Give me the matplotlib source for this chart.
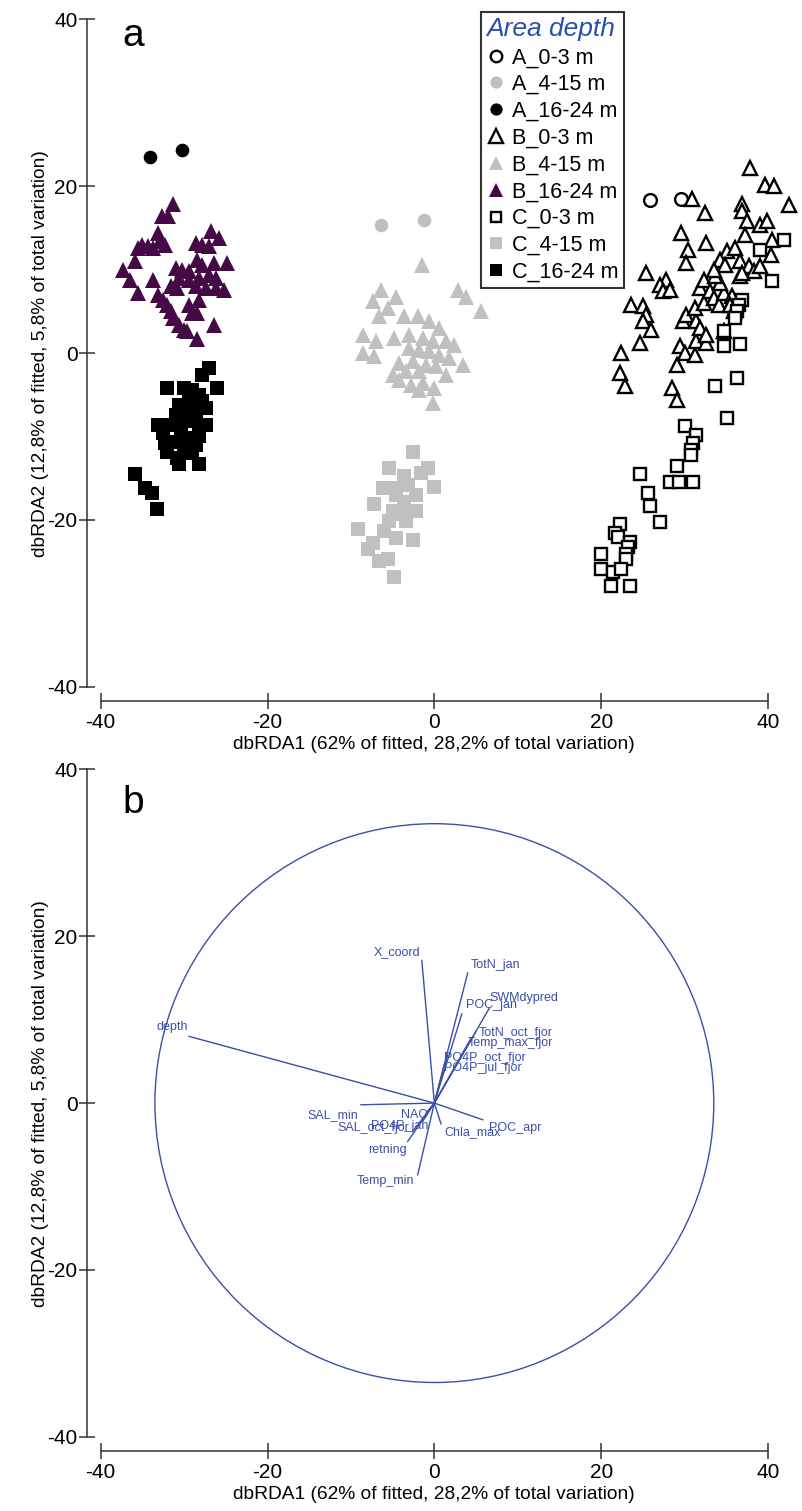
import matplotlib
matplotlib.use("Agg")
import matplotlib.pyplot as plt
from matplotlib.lines import Line2D
from matplotlib.patches import Circle
import numpy as np

plt.rcParams['font.family'] = ['Liberation Sans', 'DejaVu Sans']
plt.rcParams['axes.unicode_minus'] = False

# ---------------- data: panel a (dbRDA1, dbRDA2) ----------------
A03_x = [25.9, 29.6]
A03_y = [18.3, 18.5]

A415_x = [-6.4, -1.2]
A415_y = [15.3, 16.0]

A1624_x = [-34.1, -30.2]
A1624_y = [23.5, 24.4]

B03_x = [37.9, 39.7, 40.7, 42.5, 30.9, 32.5, 36.9, 36.9, 37.5, 39.1, 39.9, 40.5, 37.3,
         29.6, 32.6, 30.4, 30.2, 35.1, 36.1, 34.3, 36.7, 37.7, 38.3, 40.3, 25.4, 27.8,
         27.0, 27.4, 28.2, 23.6, 25.0, 25.4, 25.0, 26.0, 24.6, 22.4, 22.2, 22.8, 28.5,
         29.1, 29.1, 29.4, 30.0, 31.3, 31.4, 32.6, 29.8, 30.2, 31.4, 31.8, 31.3, 32.3,
         31.9, 32.3, 33.1, 33.5, 34.1, 34.7, 35.7, 35.5, 35.9, 34.3, 34.9, 36.1, 36.7,
         33.7, 34.7, 32.6, 33.5, 39.1, 36.9]
B03_y = [22.2, 20.2, 20.0, 17.8, 18.5, 16.8, 17.9, 17.0, 15.8, 15.4, 15.8, 13.6, 14.2,
         14.4, 13.2, 12.4, 10.8, 12.2, 12.6, 11.2, 11.0, 10.4, 9.8, 11.8, 9.6, 8.8,
         8.2, 7.4, 7.6, 5.8, 5.6, 4.6, 3.8, 2.8, 1.2, 0.0, -2.4, -4.0, -4.2,
         -5.6, -1.4, 0.8, 0.0, -0.2, 1.4, 1.2, 3.8, 4.6, 3.8, 3.0, 5.4, 6.0,
         7.8, 8.8, 7.4, 6.6, 5.8, 7.2, 6.8, 5.8, 5.0, 8.4, 10.6, 5.4, 9.2,
         9.2, 2.6, 2.2, 10.0, 10.4, 9.6]

B415_x = [-1.5, -6.4, -7.4, -4.6, -5.6, 2.8, 3.8, 5.6, -6.6, -3.6, -2.0, -0.6, 0.6,
          -8.6, -7.0, -4.8, -3.0, -1.4, -0.2, 1.4, 2.4, -8.6, -7.2, -3.0, -1.8, -0.6,
          0.6, 1.8, 3.4, -4.2, -2.6, -1.0, 0.2, -3.4, -1.8, -4.2, -2.8, -1.4, 0.0,
          -1.8, -0.2, 1.4, -5.0]
B415_y = [10.6, 7.6, 6.2, 6.7, 5.4, 7.6, 6.7, 5.0, 4.4, 4.4, 4.4, 3.8, 3.0,
          2.2, 1.4, 1.8, 2.2, 1.8, 1.4, 1.4, 1.0, 0.0, -0.4, 0.6, 0.4, 0.2,
          -0.2, -0.6, -1.4, -1.2, -1.0, -1.4, -1.6, -2.2, -2.2, -3.2, -3.8, -3.6, -4.2,
          -4.4, -6.0, -2.6, -2.6]

B1624_x = [-31.3, -32.7, -31.9, -33.1, -32.9, -35.1, -35.5, -34.3, -33.7, -32.3, -26.8,
           -25.8, -28.6, -27.8, -27.0, -35.9, -37.3, -36.5, -35.5, -33.7, -31.0, -30.2,
           -29.4, -28.4, -27.8, -26.4, -24.8, -30.6, -29.4, -28.2, -27.0, -26.2, -31.6,
           -30.8, -28.6, -27.4, -26.2, -25.2, -33.1, -32.5, -32.1, -31.6, -31.3, -30.6,
           -30.0, -29.0, -28.4, -28.2, -29.4, -26.4, -28.4, -29.6]
B1624_y = [17.9, 16.4, 16.4, 14.4, 13.4, 13.0, 12.6, 12.8, 12.6, 13.0, 14.6,
           13.8, 13.2, 13.0, 12.8, 11.0, 10.0, 8.8, 7.2, 8.8, 10.2, 10.0,
           9.8, 11.2, 10.6, 10.8, 10.8, 9.0, 8.8, 9.0, 9.4, 9.0, 8.0,
           7.8, 8.0, 7.8, 7.8, 7.6, 7.0, 6.4, 5.8, 5.0, 4.2, 3.4,
           2.8, 4.8, 4.8, 6.4, 5.8, 3.4, 1.7, 2.6]

C03_x = [41.9, 39.1, 40.5, 36.9, 36.5, 36.3, 36.1, 34.7, 34.7, 36.7, 36.3, 33.7, 35.1,
         30.0, 31.4, 31.0, 30.8, 30.8, 29.1, 24.6, 28.3, 29.3, 31.0, 25.6, 25.8, 27.0,
         22.2, 21.6, 22.0, 23.4, 23.2, 20.0, 23.0, 23.0, 20.0, 21.4, 22.4, 21.2, 23.4]
C03_y = [13.6, 12.4, 8.6, 6.4, 5.8, 5.0, 4.2, 2.6, 0.8, 1.1, -3.0, -4.0, -7.8,
         -8.8, -9.8, -10.8, -11.6, -12.2, -13.5, -14.5, -15.5, -15.5, -15.4, -16.8, -18.3, -20.3,
         -20.5, -21.6, -22.0, -22.6, -23.3, -24.1, -24.1, -24.7, -25.9, -26.3, -25.9, -27.9, -27.9]

C415_x = [-2.6, -5.4, -0.8, -1.6, -3.6, -4.8, -3.2, 0.0, -6.2, -2.2, -7.2, -3.6, -5.0,
          -2.2, -5.4, -3.4, -6.0, -9.2, -4.6, -2.6, -7.4, -8.0, -6.6, -5.6, -4.8, -3.8,
          -4.6]
C415_y = [-11.8, -13.8, -13.8, -14.4, -14.7, -16.2, -15.8, -16.0, -16.2, -17.0, -18.1, -17.8,
          -18.9, -18.9, -20.1, -20.1, -21.3, -21.1, -22.2, -22.4, -22.8, -23.5, -24.9, -24.7,
          -26.9, -19.3, -17.0]

C1624_x = [-27.0, -27.8, -26.0, -32.1, -30.0, -29.0, -28.2, -29.4, -30.6, -27.8, -31.0,
           -29.0, -27.4, -29.8, -33.1, -31.6, -27.4, -28.2, -30.4, -32.5, -29.4, -31.0,
           -32.3, -28.6, -30.0, -32.1, -29.6, -28.2, -30.8, -29.0, -30.6, -28.2, -35.9,
           -34.7, -33.9, -33.3, -30.2, -28.6]
C1624_y = [-1.8, -2.6, -4.2, -4.2, -4.2, -4.4, -5.0, -5.8, -6.2, -5.8, -7.4,
           -7.0, -6.6, -8.2, -8.6, -8.6, -8.6, -9.4, -9.4, -9.6, -10.2, -10.6,
           -10.8, -11.0, -11.0, -11.8, -11.8, -10.0, -12.6, -12.0, -13.3, -13.3, -14.5,
           -16.2, -16.8, -18.7, -7.8, -7.8]

group_names = ["A_0-3 m", "A_4-15 m", "A_16-24 m", "B_0-3 m", "B_4-15 m", "B_16-24 m",
               "C_0-3 m", "C_4-15 m", "C_16-24 m"]

# ---------------- data: panel b (vector overlay) ----------------
vec_names = ["X_coord", "TotN_jan", "SWMdypred", "POC_jan", "TotN_oct_fjor", "Temp_max_fjor",
             "PO4P_oct_fjor", "PO4P_jul_fjor", "depth", "SAL_min", "NAO", "SAL_oct_fjor",
             "PO4P_jan", "Chla_max", "POC_apr", "retning", "Temp_min"]
vec_x = [-1.5, 4.0, 6.6, 3.3, 5.0, 4.4, 1.6, 1.2, -29.4, -8.8, -1.0, -2.6, -1.4, 0.8, 5.8, -3.2, -2.0]
vec_y = [17.1, 15.6, 11.4, 10.7, 8.6, 7.8, 5.8, 4.6, 8.0, -0.2, -1.2, -3.4, -2.2, -2.5, -2.0, -4.6, -8.6]
lab_x = [-4.5, 7.3, 10.7, 6.8, 9.8, 9.1, 6.1, 5.8, -31.4, -12.2, -2.4, -7.3, -4.2, 4.6, 9.7, -5.6, -5.9]
lab_y = [18.1, 16.6, 12.6, 11.8, 8.4, 7.2, 5.4, 4.2, 9.1, -1.4, -1.4, -3.0, -2.8, -3.5, -3.0, -5.6, -9.4]
circle_radius = 33.5

axis_ticks = [-40, -20, 0, 20, 40]
xlabel = "dbRDA1 (62% of fitted, 28,2% of total variation)"
ylabel = "dbRDA2 (12,8% of fitted, 5,8% of total variation)"

# ---------------- styling ----------------
PURPLE = "#450a45"
GREY = "#c0c0c0"
BLUE = "#3a4fa8"
AXC = "#333333"

fig = plt.figure(figsize=(8.02, 15.11), dpi=100)
L, W = 100.7 / 802, 667.3 / 802
H = 667.2 / 1511
ax_a = fig.add_axes([L, 1 - 686.7 / 1511, W, H])
ax_b = fig.add_axes([L, 1 - 1436.7 / 1511, W, H])


def style_axes(ax):
    ax.set_xlim(-40, 40)
    ax.set_ylim(-40, 40)
    for s in ("top", "right"):
        ax.spines[s].set_visible(False)
    ax.spines["left"].set_position(("outward", 13.4 * 0.72))
    ax.spines["bottom"].set_position(("outward", 14.0 * 0.72))
    for s in ("left", "bottom"):
        ax.spines[s].set_bounds(-40, 40)
        ax.spines[s].set_color(AXC)
        ax.spines[s].set_linewidth(1.1)
    ax.set_xticks(axis_ticks)
    ax.set_yticks(axis_ticks)
    ax.tick_params(direction="inout", length=12, width=1.1, color=AXC, labelsize=15)
    ax.tick_params(axis="y", pad=1)
    ax.tick_params(axis="x", pad=3)
    ax.set_xlabel(xlabel, fontsize=13.8, labelpad=3)
    ax.set_ylabel(ylabel, fontsize=13.8, labelpad=-1)
    ax.patch.set_visible(False)


style_axes(ax_a)
style_axes(ax_b)

# panel a points
open_kw = dict(markerfacecolor="white", markeredgecolor="black", markeredgewidth=1.7)
specs = [
    (A03_x, A03_y, "o", 9.2, open_kw),
    (A415_x, A415_y, "o", 9.8, dict(markerfacecolor=GREY, markeredgecolor=GREY, markeredgewidth=0)),
    (A1624_x, A1624_y, "o", 9.8, dict(markerfacecolor="black", markeredgecolor="black", markeredgewidth=0)),
    (B03_x, B03_y, "^", 10.5, open_kw),
    (B415_x, B415_y, "^", 11.5, dict(markerfacecolor=GREY, markeredgecolor=GREY, markeredgewidth=0)),
    (B1624_x, B1624_y, "^", 11.5, dict(markerfacecolor=PURPLE, markeredgecolor=PURPLE, markeredgewidth=0)),
    (C03_x, C03_y, "s", 8.6, open_kw),
    (C415_x, C415_y, "s", 9.6, dict(markerfacecolor=GREY, markeredgecolor=GREY, markeredgewidth=0)),
    (C1624_x, C1624_y, "s", 9.6, dict(markerfacecolor="black", markeredgecolor="black", markeredgewidth=0)),
]
handles = []
for (xs, ys, mk, ms, kw), name in zip(specs, group_names):
    ax_a.plot(xs, ys, linestyle="none", marker=mk, markersize=ms, clip_on=False, **kw)
    handles.append(Line2D([], [], linestyle="none", marker=mk, markersize=ms * 0.9, label=name, **kw))

leg = fig.legend(handles=handles, loc="upper left",
                 bbox_to_anchor=(481 / 802, 1 - 12 / 1511),
                 fontsize=15.5, title="Area depth", frameon=True, fancybox=False,
                 handlelength=0.85, handletextpad=0.35, labelspacing=0.27,
                 borderpad=0.25, borderaxespad=0, alignment="left")
leg.get_frame().set_edgecolor("black")
leg.get_frame().set_linewidth(1.5)
leg.get_title().set_fontsize(19)
leg.get_title().set_fontstyle("italic")
leg.get_title().set_color("#2a4fb0")

ax_a.text(-37.4, 36.8, "a", fontsize=28, ha="left", va="baseline")

# panel b vectors
ax_b.add_patch(Circle((0, 0), circle_radius, fill=False, edgecolor=BLUE, linewidth=1.0))
for vx, vy, lx, ly, nm in zip(vec_x, vec_y, lab_x, lab_y, vec_names):
    ax_b.plot([0, vx], [0, vy], color=BLUE, linewidth=1.0)
    ax_b.text(lx, ly, nm, color=BLUE, fontsize=9, ha="center", va="center")
ax_b.text(-37.4, 34.8, "b", fontsize=28, ha="left", va="baseline")

fig.savefig("out.png", dpi=100)
